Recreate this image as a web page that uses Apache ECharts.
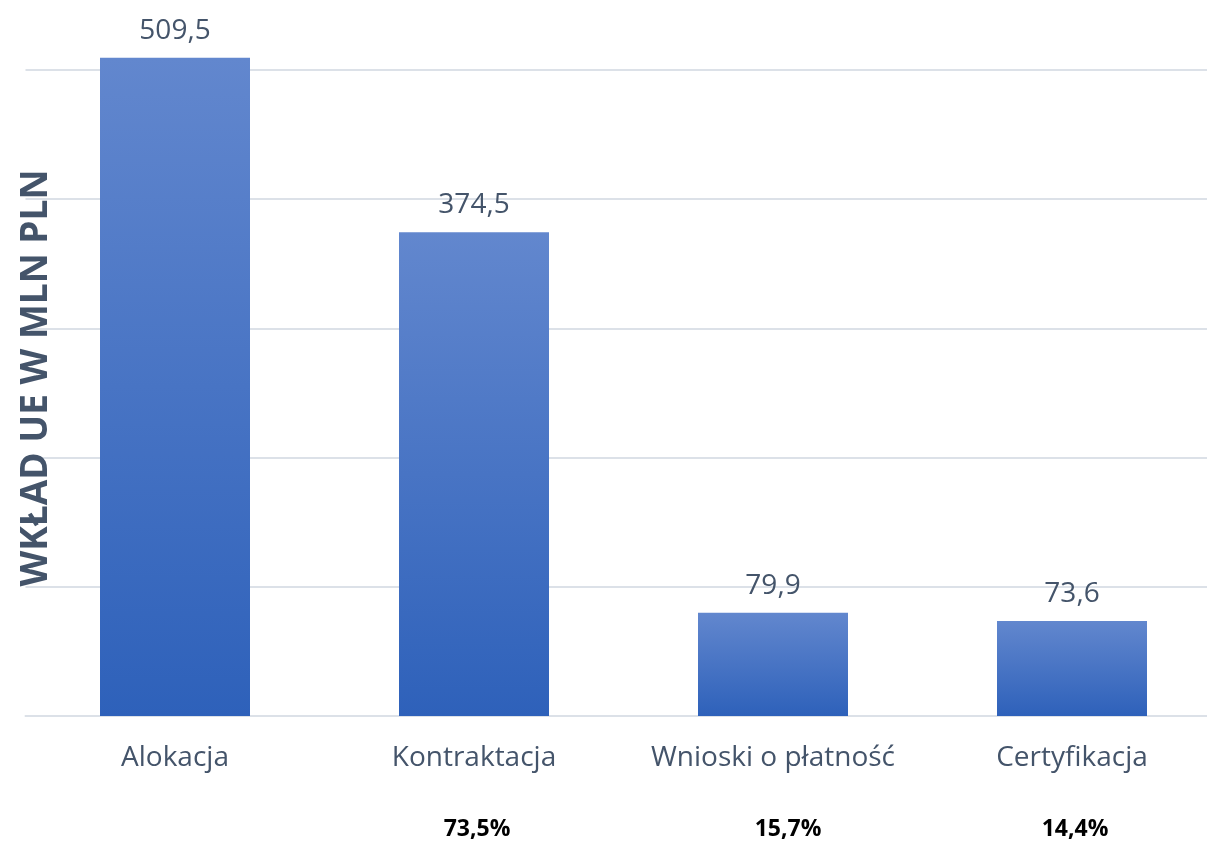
<!DOCTYPE html>
<html>
<head>
<meta charset="utf-8">
<script src="https://cdn.jsdelivr.net/npm/echarts@6/dist/echarts.min.js"></script>
<style>
  html, body { margin: 0; padding: 0; background: #FFFFFF; }
  #chart { width: 1207px; height: 842px; }
</style>
</head>
<body>
<div id="chart"></div>
<script>
  // dane wykresu
  var categories = ['Alokacja', 'Kontraktacja', 'Wnioski o płatność', 'Certyfikacja'];
  var values = [509.5, 374.5, 79.9, 73.6];
  var shares = ['', '73,5%', '15,7%', '14,4%'];
  var yTicks = [0, 100, 200, 300, 400, 500];

  var chart = echarts.init(document.getElementById('chart'));

  var barColor = new echarts.graphic.LinearGradient(0, 0, 0, 1, [
    { offset: 0, color: '#6287CE' },
    { offset: 1, color: '#2E61BA' }
  ]);

  var option = {
    animation: false,
    grid: {
      left: 25.5,
      top: 70,
      width: 1196,
      bottom: 126,
      containLabel: false,
      outerBoundsMode: 'none'
    },
    xAxis: [
      {
        type: 'category',
        data: categories,
        axisLine: { lineStyle: { color: '#DCE1E8', width: 2 } },
        axisTick: { show: false },
        axisLabel: {
          interval: 0,
          margin: 28,
          color: '#44546A',
          fontFamily: 'Open Sans',
          fontSize: 28
        }
      },
      {
        type: 'category',
        position: 'bottom',
        data: shares.map(function (s, i) {
          var shift = [0, 6, 30, 6][i];
          return { value: s, textStyle: { padding: [0, 0, 0, shift] } };
        }),
        axisLine: { show: false },
        axisTick: { show: false },
        axisLabel: {
          interval: 0,
          margin: 102,
          color: '#000000',
          fontFamily: 'Open Sans',
          fontWeight: 'bold',
          fontSize: 23
        }
      }
    ],
    yAxis: {
      type: 'value',
      min: yTicks[0],
      max: yTicks[yTicks.length - 1],
      interval: 100,
      name: 'WKŁAD UE W MLN PLN',
      nameLocation: 'middle',
      nameRotate: 90,
      nameGap: -29,
      nameTextStyle: {
        color: '#44546A',
        fontFamily: 'Open Sans',
        fontWeight: 'bold',
        fontSize: 37,
        padding: [0, 0, 0, 30]
      },
      axisLine: { show: false },
      axisTick: { show: false },
      axisLabel: { show: false },
      splitLine: { lineStyle: { color: '#DCE1E8', width: 2 } }
    },
    series: [
      {
        type: 'bar',
        data: values,
        barWidth: 150,
        clip: false,
        itemStyle: { color: barColor },
        label: {
          show: true,
          position: 'top',
          distance: 13,
          color: '#44546A',
          fontFamily: 'Open Sans',
          fontSize: 28,
          formatter: function (p) {
            return p.value.toFixed(1).replace('.', ',');
          }
        }
      }
    ]
  };

  chart.setOption(option);
</script>
</body>
</html>
